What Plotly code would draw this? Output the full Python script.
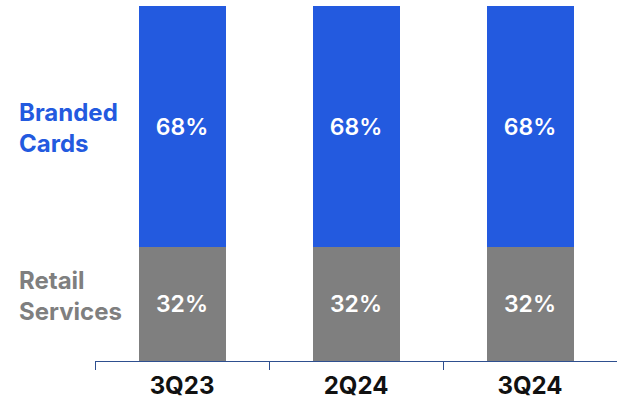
import plotly.graph_objects as go

categories = ["3Q23", "2Q24", "3Q24"]
retail_services = [32, 32, 32]
branded_cards = [68, 68, 68]

BLUE = "#235ADF"
GRAY = "#7F7F7F"
FONT = "Inter"

fig = go.Figure()
fig.add_trace(go.Bar(
    x=categories, y=retail_services, name="Retail Services",
    marker=dict(color=GRAY, line=dict(width=0)),
    text=[f"{v}%" for v in retail_services], textposition="inside",
    insidetextanchor="middle",
    textfont=dict(color="white", size=23, family=FONT, weight=600),
    width=0.5,
))
fig.add_trace(go.Bar(
    x=categories, y=branded_cards, name="Branded Cards",
    marker=dict(color=BLUE, line=dict(width=0)),
    text=[f"{v}%" for v in branded_cards], textposition="inside",
    insidetextanchor="middle",
    textfont=dict(color="white", size=23, family=FONT, weight=600),
    width=0.5,
))

fig.update_layout(
    barmode="stack",
    width=617, height=410,
    margin=dict(l=95, r=0, t=6, b=49),
    plot_bgcolor="white", paper_bgcolor="white",
    showlegend=False,
    uniformtext=dict(mode="show", minsize=10),
    font=dict(family=FONT),
    xaxis=dict(
        showline=True, linecolor="#2E4F8F", linewidth=1,
        ticks="outside", tickson="boundaries", ticklen=8,
        tickcolor="#2E4F8F", tickwidth=1,
        ticklabelstandoff=3,
        tickfont=dict(size=24, color="#111111", family=FONT, weight="bold"),
        showgrid=False,
    ),
    yaxis=dict(range=[0, 100], visible=False, showgrid=False),
)

fig.add_annotation(text="<b>Branded<br>Cards</b>", xref="paper", yref="paper",
                   x=-0.149, y=0.656, xanchor="left", yanchor="middle",
                   showarrow=False, align="left",
                   font=dict(size=24, color=BLUE, family=FONT))
fig.add_annotation(text="<b>Retail<br>Services</b>", xref="paper", yref="paper",
                   x=-0.149, y=0.183, xanchor="left", yanchor="middle",
                   showarrow=False, align="left",
                   font=dict(size=24, color=GRAY, family=FONT))

fig.write_html("out.html", config={"displayModeBar": False},
               post_script="document.body.style.margin='0';document.body.style.padding='0';")
